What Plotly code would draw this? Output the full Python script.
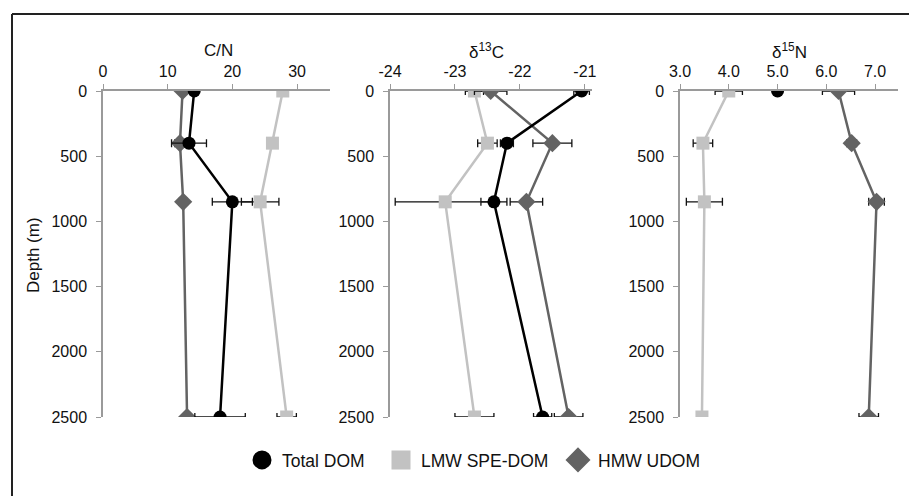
import plotly.graph_objects as go

# Sampling depths (m)
depth = [0, 400, 850, 2500]

# C/N ratio
cn_total = [14.1, 13.3, 20.0, 18.1]
cn_total_err = [0.6, 2.7, 3.1, 3.9]
cn_lmw = [27.8, 26.2, 24.3, 28.4]
cn_lmw_err = [0.0, 0.0, 2.9, 1.5]
cn_hmw = [12.3, 11.9, 12.4, 13.0]
cn_hmw_err = [0.4, 0.8, 0.6, 0.5]

# delta 13C (per mil)
c13_total = [-21.05, -22.2, -22.4, -21.65]
c13_total_err = [0.12, 0.1, 0.2, 0.14]
c13_lmw = [-22.7, -22.5, -23.15, -22.7]
c13_lmw_err = [0.14, 0.15, 0.77, 0.3]
c13_hmw = [-22.45, -21.5, -21.9, -21.25]
c13_hmw_err = [0.25, 0.3, 0.25, 0.22]

# delta 15N (per mil); total DOM measured at surface only
n15_total = [5.0, None, None, None]
n15_total_err = [0.0, 0.0, 0.0, 0.0]
n15_lmw = [4.0, 3.47, 3.5, 3.45]
n15_lmw_err = [0.28, 0.2, 0.37, 0.0]
n15_hmw = [6.25, 6.52, 7.03, 6.87]
n15_hmw_err = [0.33, 0.1, 0.16, 0.2]

series_names = ["Total DOM", "LMW SPE-DOM", "HMW UDOM"]
series_colors = ["#000000", "#c2c2c2", "#636363"]
series_symbols = ["circle", "square", "diamond"]

panel_titles = ["C/N", "δ<sup>13</sup>C", "δ<sup>15</sup>N"]
x_ticks = [[0, 10, 20, 30], [-24, -23, -22, -21], [3.0, 4.0, 5.0, 6.0, 7.0]]
x_ticktext = [["0", "10", "20", "30"], ["-24", "-23", "-22", "-21"],
              ["3.0", "4.0", "5.0", "6.0", "7.0"]]
x_ranges = [[0, 35.1], [-24, -20.89], [3.0, 7.47]]
depth_ticks = [0, 500, 1000, 1500, 2000, 2500]

W, H = 909, 496
px_x = [(103, 330), (390, 592), (680, 898)]
y_top, y_bot = 91, 417

panels = [
    [(cn_total, cn_total_err), (cn_lmw, cn_lmw_err), (cn_hmw, cn_hmw_err)],
    [(c13_total, c13_total_err), (c13_lmw, c13_lmw_err), (c13_hmw, c13_hmw_err)],
    [(n15_total, n15_total_err), (n15_lmw, n15_lmw_err), (n15_hmw, n15_hmw_err)],
]

fig = go.Figure()
axis_grey = "#9a9a9a"
font_family = "Liberation Sans, Arial, sans-serif"

draw_order = [1, 2, 0]  # light grey first, total DOM on top
for p, panel in enumerate(panels):
    xa = "x" if p == 0 else f"x{p+1}"
    ya = "y" if p == 0 else f"y{p+1}"
    for s in draw_order:
        vals, err = panel[s]
        fig.add_trace(go.Scatter(
            x=vals, y=depth, xaxis=xa, yaxis=ya,
            mode="lines+markers", showlegend=False, connectgaps=False,
            line=dict(color=series_colors[s], width=2.5),
            marker=dict(symbol=series_symbols[s], size=13 if s != 2 else 14,
                        color=series_colors[s]),
            error_x=dict(type="data", array=err, symmetric=True,
                         color="#111111", thickness=1.3, width=4),
        ))

# one legend box per series, laid out in a row below the panels
legend_ids = ["legend", "legend2", "legend3"]
legend_px = [242, 381, 558]
for s in range(3):
    fig.add_trace(go.Scatter(
        x=[None], y=[None], mode="markers", name=series_names[s],
        legend=legend_ids[s],
        marker=dict(symbol=series_symbols[s], size=20 if s != 2 else 22,
                    color=series_colors[s],
                    line=dict(color=series_colors[s], width=3)),
    ))

layout = dict(
    width=W, height=H,
    margin=dict(l=0, r=0, t=0, b=0, autoexpand=False),
    paper_bgcolor="white", plot_bgcolor="white",
    font=dict(family=font_family, size=16, color="#111111"),
)
for s in range(3):
    layout[legend_ids[s]] = dict(
        orientation="h", x=legend_px[s] / W, xanchor="left",
        y=1 - 460 / H, yanchor="middle", font=dict(size=17.5),
        itemsizing="trace", itemwidth=30, bgcolor="rgba(0,0,0,0)",
    )

for p in range(3):
    sfx = "" if p == 0 else str(p + 1)
    x0, x1 = px_x[p]
    layout["xaxis" + sfx] = dict(
        domain=[x0 / W, x1 / W], range=x_ranges[p], side="top",
        anchor="y" + sfx, tickvals=x_ticks[p], ticktext=x_ticktext[p],
        showgrid=False, zeroline=False, showline=True, linecolor=axis_grey,
        linewidth=1.5, ticks="outside", ticklen=5, tickcolor=axis_grey,
        tickwidth=1.2, ticklabelstandoff=1, tickfont=dict(size=16),
    )
    layout["yaxis" + sfx] = dict(
        domain=[1 - y_bot / H, 1 - y_top / H], range=[2500, 0],
        anchor="x" + sfx, tickvals=depth_ticks, showgrid=False, zeroline=False,
        showline=True, linecolor=axis_grey, linewidth=1.5, ticks="outside",
        ticklen=5, tickcolor=axis_grey, tickwidth=1.2, ticklabelstandoff=6,
        tickfont=dict(size=16),
    )

fig.update_layout(**layout)

annotations = []
centers = [218, 486, 789]
for p in range(3):
    annotations.append(dict(
        text=panel_titles[p], x=centers[p] / W, y=1 - 51 / H,
        xref="paper", yref="paper", showarrow=False,
        font=dict(size=17), xanchor="center", yanchor="middle"))
annotations.append(dict(
    text="Depth (m)", x=33 / W, y=1 - 255 / H, xref="paper", yref="paper",
    showarrow=False, textangle=-90, font=dict(size=17),
    xanchor="center", yanchor="middle"))
fig.update_layout(annotations=annotations)

# frame around the figure (left and top edges visible)
fig.add_shape(type="line", xref="paper", yref="paper",
              x0=12 / W, x1=1.01, y0=1 - 14 / H, y1=1 - 14 / H,
              line=dict(color="#222222", width=2))
fig.add_shape(type="line", xref="paper", yref="paper",
              x0=12 / W, x1=12 / W, y0=-0.01, y1=1 - 14 / H,
              line=dict(color="#222222", width=2))

fig.write_html("out.html")
